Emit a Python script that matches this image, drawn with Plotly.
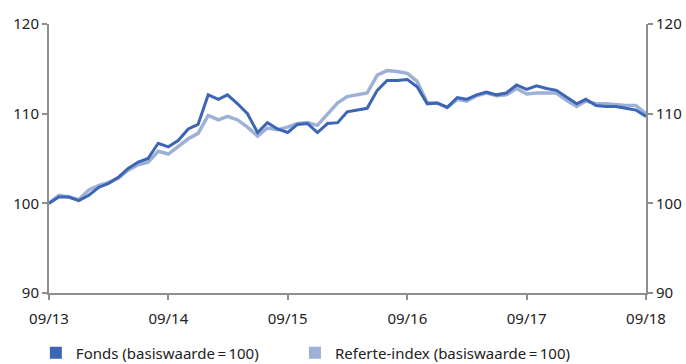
import pandas as pd
import plotly.graph_objects as go

# Monthly observations, September 2013 through September 2018
months = pd.date_range("2013-09-01", "2018-09-01", freq="MS")

fonds = [
    100.0, 100.7, 100.7, 100.3, 100.9, 101.8, 102.2, 102.9, 103.9, 104.6,
    105.0, 106.7, 106.3, 107.0, 108.3, 108.8, 112.1, 111.6, 112.1, 111.1,
    110.0, 107.9, 109.0, 108.3, 107.9, 108.8, 108.9, 107.9, 108.9, 109.0,
    110.2, 110.4, 110.6, 112.6, 113.7, 113.7, 113.8, 113.0, 111.1, 111.2,
    110.7, 111.8, 111.6, 112.1, 112.4, 112.1, 112.3, 113.2, 112.7, 113.1,
    112.8, 112.6, 111.8, 111.1, 111.6, 110.9, 110.8, 110.8, 110.6, 110.4,
    109.7,
]

referte = [
    100.0, 100.9, 100.7, 100.4, 101.5, 102.0, 102.3, 102.8, 103.7, 104.3,
    104.6, 105.8, 105.5, 106.3, 107.2, 107.8, 109.8, 109.3, 109.7, 109.3,
    108.5, 107.5, 108.4, 108.2, 108.5, 108.9, 109.0, 108.7, 110.0, 111.2,
    111.9, 112.1, 112.3, 114.3, 114.8, 114.7, 114.5, 113.6, 111.2, 111.2,
    110.7, 111.6, 111.4, 112.0, 112.3, 112.0, 112.1, 112.8, 112.2, 112.3,
    112.3, 112.3, 111.5, 110.8, 111.4, 111.1, 111.1, 111.0, 110.9, 110.9,
    110.0,
]

tick_dates = ["2013-09-01", "2014-09-01", "2015-09-01", "2016-09-01", "2017-09-01", "2018-09-01"]
tick_labels = ["09/13", "09/14", "09/15", "09/16", "09/17", "09/18"]
y_ticks = [90, 100, 110, 120]

names = ["Fonds (basiswaarde\u2009=\u2009100)", "Referte-index (basiswaarde\u2009=\u2009100)"]
dark = "#3D65B5"
light = "#9DB1D6"
axis_grey = "#8F8F8F"
text_col = "#222222"
font_family = "Noto Sans"

fig = go.Figure()

fig.add_trace(go.Scatter(x=months, y=referte, mode="lines",
                         line=dict(color=light, width=3.5), showlegend=False,
                         hoverinfo="skip"))
fig.add_trace(go.Scatter(x=months, y=fonds, mode="lines",
                         line=dict(color=dark, width=3), showlegend=False,
                         hoverinfo="skip"))

# Square legend keys, one legend box per series
for name, col, leg in zip(names, [dark, light], ["legend", "legend2"]):
    fig.add_trace(go.Scatter(x=[None], y=[None], mode="markers", name=name,
                             legend=leg,
                             marker=dict(symbol="square", size=12, color=col)))

# Mirror axis on the right side
fig.add_trace(go.Scatter(x=[months[0]], y=[None], yaxis="y2", mode="markers",
                         showlegend=False, hoverinfo="skip"))

axis_common = dict(
    range=[90, 120], tickvals=y_ticks, showgrid=False, zeroline=False,
    showline=True, linecolor=axis_grey, linewidth=2,
    ticks="outside", ticklen=5, tickwidth=2, tickcolor=axis_grey,
    tickfont=dict(size=15, color=text_col, family=font_family),
)

legend_common = dict(orientation="h", y=-0.162, xanchor="left", yanchor="top",
                     font=dict(size=15, color=text_col, family=font_family),
                     bgcolor="rgba(0,0,0,0)")

fig.update_layout(
    width=686, height=364,
    margin=dict(l=49, r=40, t=24, b=71, autoexpand=False),
    paper_bgcolor="white", plot_bgcolor="white",
    font=dict(family=font_family, size=15, color=text_col),
    xaxis=dict(
        range=[months[0], months[-1]], tickvals=tick_dates, ticktext=tick_labels,
        showgrid=False, zeroline=False, showline=True, linecolor=axis_grey,
        linewidth=2, ticks="outside", ticklen=5, tickwidth=2, tickcolor=axis_grey,
        ticklabelstandoff=6,
        tickfont=dict(size=15, color=text_col, family=font_family),
    ),
    yaxis=dict(side="left", **axis_common),
    yaxis2=dict(side="right", overlaying="y", **axis_common),
    legend=dict(x=-0.022, **legend_common),
    legend2=dict(x=0.412, **legend_common),
)

fig.write_html("out.html")
